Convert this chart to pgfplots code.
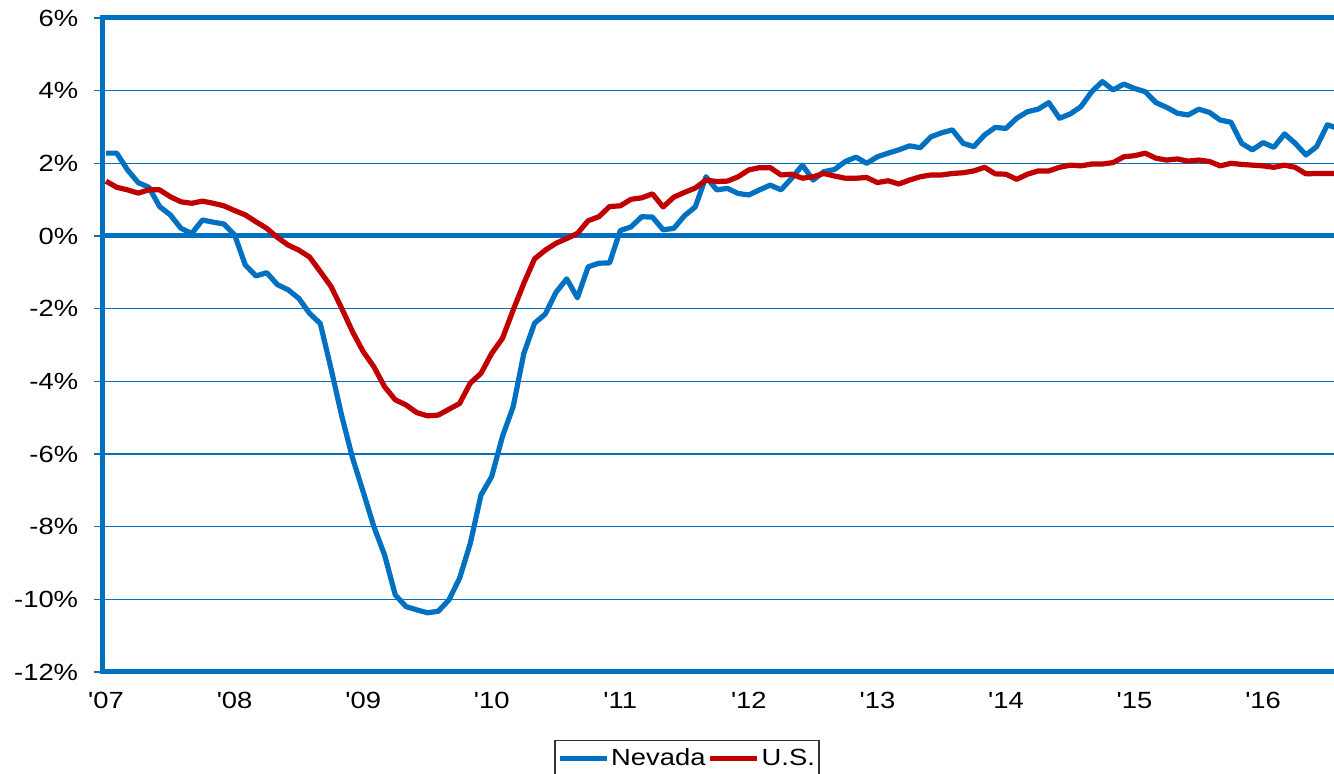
\documentclass[border=0pt]{standalone}
\usepackage{graphicx}
\usepackage{pgfplots}
\pgfplotsset{compat=1.18}
\usepackage{pgfplotstable}
\usepackage{fontspec}
\setmainfont{Liberation Sans}
\definecolor{nvblue}{RGB}{0,112,192}
\definecolor{usred}{RGB}{192,0,0}
\newcommand{\sx}[1]{\scalebox{1.17}[1]{#1}}
\pgfplotstableread{
x nv us
0 2.28 1.51
1 2.28 1.34
2 1.82 1.27
3 1.47 1.18
4 1.34 1.27
5 0.81 1.27
6 0.58 1.08
7 0.21 0.94
8 0.07 0.90
9 0.44 0.96
10 0.38 0.90
11 0.33 0.83
12 0.03 0.70
13 -0.80 0.58
14 -1.10 0.39
15 -1.01 0.21
16 -1.34 -0.04
17 -1.48 -0.25
18 -1.72 -0.39
19 -2.13 -0.58
20 -2.41 -0.98
21 -3.65 -1.39
22 -4.95 -1.99
23 -6.10 -2.63
24 -7.04 -3.18
25 -8.00 -3.60
26 -8.78 -4.15
27 -9.88 -4.51
28 -10.20 -4.65
29 -10.29 -4.86
30 -10.37 -4.95
31 -10.33 -4.93
32 -10.02 -4.77
33 -9.42 -4.61
34 -8.46 -4.05
35 -7.13 -3.78
36 -6.62 -3.23
37 -5.52 -2.82
38 -4.70 -2.04
39 -3.23 -1.30
40 -2.40 -0.63
41 -2.15 -0.39
42 -1.55 -0.20
43 -1.18 -0.07
44 -1.70 0.07
45 -0.85 0.42
46 -0.75 0.53
47 -0.74 0.81
48 0.15 0.83
49 0.25 1.01
50 0.53 1.05
51 0.52 1.16
52 0.17 0.80
53 0.21 1.07
54 0.56 1.20
55 0.80 1.32
56 1.63 1.54
57 1.27 1.50
58 1.31 1.51
59 1.17 1.63
60 1.13 1.82
61 1.27 1.88
62 1.40 1.88
63 1.27 1.68
64 1.59 1.70
65 1.95 1.59
66 1.54 1.63
67 1.77 1.72
68 1.83 1.65
69 2.05 1.59
70 2.17 1.59
71 2.00 1.61
72 2.18 1.47
73 2.28 1.52
74 2.37 1.43
75 2.48 1.54
76 2.43 1.63
77 2.73 1.68
78 2.84 1.68
79 2.92 1.72
80 2.55 1.74
81 2.46 1.79
82 2.78 1.89
83 2.99 1.71
84 2.96 1.70
85 3.24 1.56
86 3.42 1.70
87 3.49 1.79
88 3.67 1.79
89 3.24 1.89
90 3.36 1.95
91 3.56 1.93
92 3.97 1.98
93 4.25 1.98
94 4.02 2.02
95 4.18 2.18
96 4.06 2.21
97 3.97 2.28
98 3.67 2.14
99 3.54 2.09
100 3.38 2.12
101 3.33 2.06
102 3.49 2.09
103 3.40 2.05
104 3.19 1.93
105 3.13 2.00
106 2.55 1.97
107 2.37 1.95
108 2.57 1.93
109 2.44 1.89
110 2.81 1.95
111 2.55 1.89
112 2.23 1.71
113 2.46 1.72
114 3.06 1.72
115 2.96 1.72
}\datatable
\begin{document}
\begin{tikzpicture}
\begin{axis}[
  at={(0,0)}, anchor=south west,
  scale only axis, width=615.75pt, height=327pt,
  xmin=-0.33, xmax=114.62, ymin=-12, ymax=6,
  axis x line*=bottom, axis y line*=left,
  axis line style={line width=2.5pt, draw=nvblue, -, line cap=rect},
  ytick={-12,-10,...,6},
  yticklabels={\sx{-12\%},\sx{-10\%},\sx{-8\%},\sx{-6\%},\sx{-4\%},\sx{-2\%},\sx{0\%},\sx{2\%},\sx{4\%},\sx{6\%}},
  xtick={0,12,...,108},
  xticklabels={\sx{\textquotesingle07},\sx{\textquotesingle08},\sx{\textquotesingle09},\sx{\textquotesingle10},\sx{\textquotesingle11},\sx{\textquotesingle12},\sx{\textquotesingle13},\sx{\textquotesingle14},\sx{\textquotesingle15},\sx{\textquotesingle16}},
  ymajorgrids,
  grid style={line width=0.7pt, draw=nvblue},
  tick align=outside,
  major tick length=4.5pt,
  ytick style={line width=0.7pt, draw=nvblue},
  xtick style={draw=none},
  extra y ticks={0,6}, extra y tick labels={},
  extra y tick style={grid style={line width=2.5pt, draw=nvblue}, ytick style={draw=none}},
  tick label style={font=\fontsize{11.7}{14}\selectfont, inner sep=0pt},
  yticklabel style={anchor=east, xshift=-7.5pt},
  xticklabel style={anchor=north, yshift=-5.5pt},
  legend style={at={(0.4746,-0.104)}, anchor=north, draw=black!80, line width=0.6pt,
    font=\fontsize{11.7}{14}\selectfont, inner xsep=1pt, inner ysep=3pt,
    nodes={inner sep=1pt},
    /tikz/every even column/.append style={column sep=0pt}},
  legend columns=2,
  legend image code/.code={\draw[#1] (0pt,0pt) -- (23.5pt,0pt);},
  clip=true,
]
\addplot[draw=nvblue, line width=2.6pt, line join=round] table[x=x,y=nv] {\datatable};
\addlegendentry{\sx{Nevada}}
\addplot[draw=usred, line width=2.6pt, line join=round] table[x=x,y=us] {\datatable};
\addlegendentry{\sx{U.S.}}
\end{axis}
\pgfresetboundingbox
\useasboundingbox (-51.25pt,-51pt) rectangle (615.75pt,336pt);
\end{tikzpicture}
\end{document}
